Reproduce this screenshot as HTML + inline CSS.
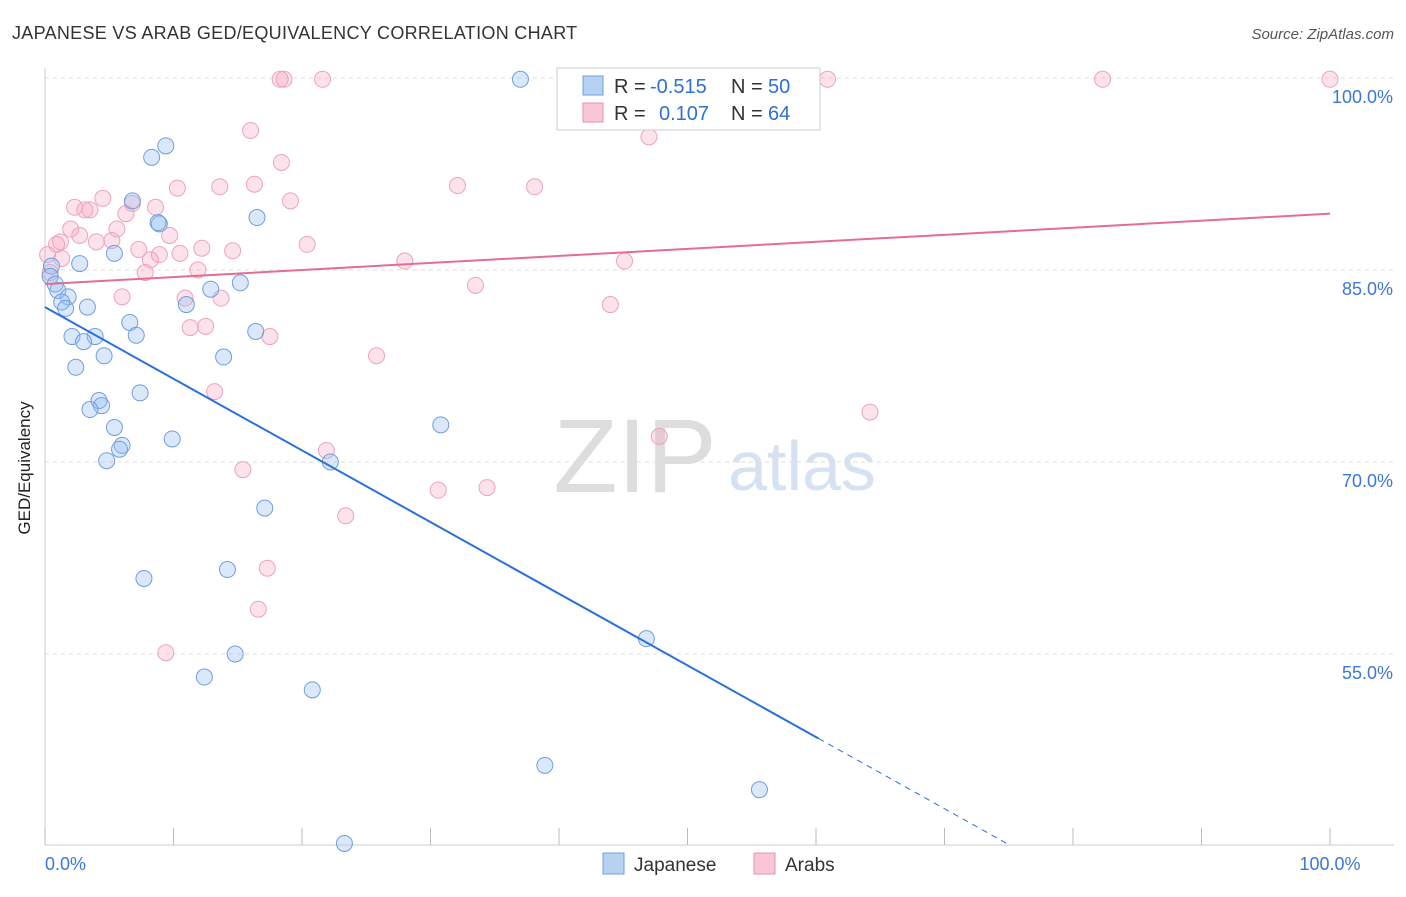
<!DOCTYPE html>
<html><head><meta charset="utf-8"><style>
body{margin:0;background:#fff;font-family:"Liberation Sans",sans-serif}
svg text{font-family:"Liberation Sans",sans-serif}
</style></head><body>
<svg id="c" width="1406" height="892">
<text x="12" y="39" font-size="18" letter-spacing="0.3" fill="#333">JAPANESE VS ARAB GED/EQUIVALENCY CORRELATION CHART</text>
<text x="1394" y="39" font-size="15" fill="#555" text-anchor="end" font-style="italic">Source: ZipAtlas.com</text>
<text x="20" y="458" font-size="17" fill="#222" transform="rotate(-90 30 458)" text-anchor="middle">GED/Equivalency</text>
<text x="635" y="492" font-size="105" fill="#ddd" text-anchor="middle" font-family="Liberation Serif">ZIP</text>
<text x="802" y="490" font-size="70" fill="#d6e2f2" text-anchor="middle">atlas</text>
<g id="grid"></g><g id="pts"></g><g id="lines"></g>
<g>
<rect x="557" y="68" width="263" height="62" fill="#fff" stroke="#ccc"/>
<rect x="583" y="76" width="20" height="19" fill="#b7d1f3" stroke="#6f9ee0"/>
<text x="614" y="93" font-size="20" fill="#333">R =</text>
<text x="650" y="93" font-size="20" fill="#2f6fd6">-0.515</text>
<text x="731" y="93" font-size="20" fill="#333">N =</text>
<text x="768" y="93" font-size="20" fill="#2f6fd6">50</text>
<rect x="583" y="103" width="20" height="19" fill="#f8c6d5" stroke="#e893ae"/>
<text x="614" y="120" font-size="20" fill="#333">R =</text>
<text x="659" y="120" font-size="20" fill="#2f6fd6">0.107</text>
<text x="731" y="120" font-size="20" fill="#333">N =</text>
<text x="768" y="120" font-size="20" fill="#2f6fd6">64</text>
</g>
<g>
<rect x="603" y="853" width="21" height="21" fill="#b7d1f3" stroke="#6f9ee0"/>
<text x="634" y="871" font-size="19" fill="#333">Japanese</text>
<rect x="754" y="853" width="21" height="21" fill="#f8c6d5" stroke="#e893ae"/>
<text x="785" y="871" font-size="19" fill="#333">Arabs</text>
</g>
</svg>
<script>
const yTicks=[100,85,70,55];
const xTickLabels=["0.0%","100.0%"];
const japX=[37,9.4,8.3,6.8,8.9,8.8,16.5,2.7,5.4,0.5,0.4,0.8,1,1.8,1.3,1.6,3.3,15.2,12.9,11,6.6,7.1,16.4,2.1,3.9,3,4.6,13.9,2.4,7.4,4.2,4.4,3.5,5.4,9.9,6,5.8,4.8,30.8,22.2,17.1,7.7,14.2,46.8,14.8,12.4,20.8,38.9,55.6,23.3];
const japY=[99.9,94.7,93.8,90.4,88.6,88.7,89.1,85.5,86.3,85.3,84.5,83.9,83.4,82.9,82.5,82,82.1,84,83.5,82.3,80.9,79.9,80.2,79.8,79.8,79.4,78.3,78.2,77.4,75.4,74.8,74.4,74.1,72.7,71.8,71.3,71,70.1,72.9,70,66.4,60.9,61.6,56.2,55,53.2,52.2,46.3,44.4,40.2];
const arbX=[18.3,18.6,21.6,60.9,82.3,100,16,47,18.4,32.1,38.1,10.3,13.6,16.3,19.1,4.5,6.8,2.3,3.1,3.5,8.6,6.3,5.6,2,2.7,9.7,0.9,4,5.2,20.4,12.2,14.6,7.3,8.9,10.5,1.3,8.2,7.8,11.9,28,45.1,33.5,6,10.9,13.7,44,11.3,12.5,17.5,25.8,13.2,64.2,47.8,21.9,15.4,30.6,34.4,23.4,17.3,16.6,9.4,0.2,0.4,1.2];
const arbY=[99.9,99.9,99.9,99.9,99.9,99.9,95.9,95.4,93.4,91.6,91.5,91.4,91.5,91.7,90.4,90.6,90.2,89.9,89.7,89.7,89.9,89.4,88.2,88.2,87.7,87.7,87,87.2,87.3,87,86.7,86.5,86.6,86.2,86.3,85.9,85.8,84.8,85,85.7,85.7,83.8,82.9,82.8,82.8,82.3,80.5,80.6,79.8,78.3,75.5,73.9,72,70.9,69.4,67.8,68,65.8,61.7,58.5,55.1,86.2,84.8,87.2];
const japTrend=[82.1,48.4,60.2], arbTrend=[83.9,89.4];
const X=v=>45+v*12.85, Y=v=>78+(100-v)*12.8;
const NS="http://www.w3.org/2000/svg";
function mk(tag,attrs,parent){const e=document.createElementNS(NS,tag);for(const k in attrs)e.setAttribute(k,attrs[k]);document.getElementById(parent).appendChild(e);return e;}
yTicks.forEach(v=>{
 const l=mk('line',{x1:45,x2:1394,y1:Y(v),y2:Y(v),stroke:'#ddd','stroke-dasharray':'4,4'},'grid');
 
 
 const t=mk('text',{x:1393,y:Y(v)+25,'font-size':18,fill:'#3a78d8','text-anchor':'end'},'grid');t.textContent=v.toFixed(1)+'%';
 
 
});
const ax=mk('line',{x1:45,x2:45,y1:68,y2:845,stroke:'#ccc'},'grid');


const bx=mk('line',{x1:45,x2:1394,y1:845,y2:845,stroke:'#ccc'},'grid');


for(let i=0;i<=10;i++){const t=mk('line',{x1:X(i*10),x2:X(i*10),y1:828,y2:845,stroke:'#bbb'},'grid');
 
 }
[[0,'start',45],[100,'middle',X(100)]].forEach((d,i)=>{const t=mk('text',{x:d[2],y:870,'font-size':18,fill:'#3a78d8','text-anchor':d[1]},'grid');t.textContent=xTickLabels[i];
 
 });
arbX.forEach((v,i)=>{const c=mk('circle',{cx:X(v),cy:Y(arbY[i]),r:8,fill:'rgba(244,160,188,0.3)',stroke:'#eea3bb','stroke-width':1},'pts');
 
 });
japX.forEach((v,i)=>{const c=mk('circle',{cx:X(v),cy:Y(japY[i]),r:8,fill:'rgba(150,190,240,0.35)',stroke:'#6f9ee0','stroke-width':1},'pts');
 
 });
const s=(japTrend[1]-japTrend[0])/japTrend[2];
const l1=mk('line',{x1:X(0),y1:Y(japTrend[0]),x2:X(japTrend[2]),y2:Y(japTrend[1]),stroke:'#2b70d8','stroke-width':2},'lines');


const xe=japTrend[2]+ (40.1-japTrend[1])/s;
const l2=mk('line',{x1:X(japTrend[2]),y1:Y(japTrend[1]),x2:X(xe),y2:Y(40.1),stroke:'#2b70d8','stroke-width':1,'stroke-dasharray':'6,5'},'lines');


const l3=mk('line',{x1:X(0),y1:Y(arbTrend[0]),x2:X(100),y2:Y(arbTrend[1]),stroke:'#e46d96','stroke-width':2},'lines');


</script>
</body></html>
